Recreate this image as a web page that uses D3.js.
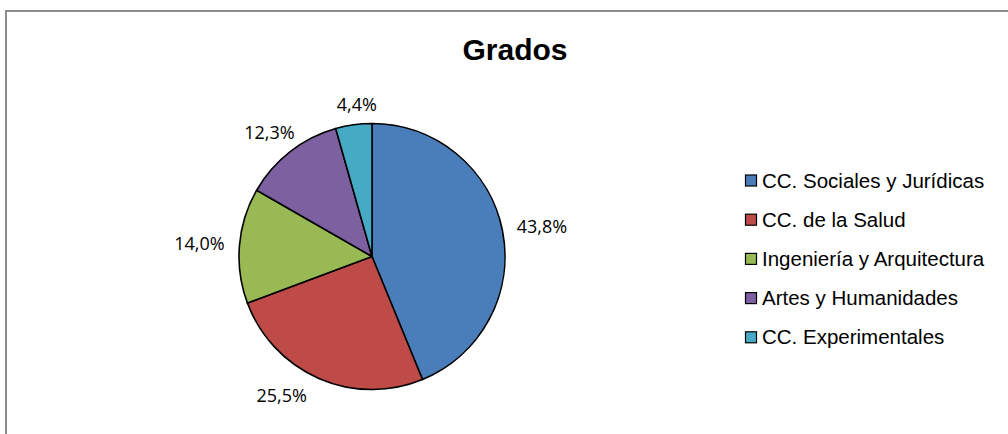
<!DOCTYPE html>
<html>
<head>
<meta charset="utf-8">
<script src="https://cdn.jsdelivr.net/npm/d3@7"></script>
<style>
  html, body { margin: 0; padding: 0; background: #fff; }
  svg { display: block; }
</style>
</head>
<body>
<svg id="chart" width="1008" height="434"></svg>
<script>
const categories = ["CC. Sociales y Jurídicas", "CC. de la Salud", "Ingeniería y Arquitectura", "Artes y Humanidades", "CC. Experimentales"];
const values = [43.8, 25.5, 14.0, 12.3, 4.4];
const valueLabels = ["43,8%", "25,5%", "14,0%", "12,3%", "4,4%"];
const colors = ["#4A7EBB", "#BE4B48", "#98B954", "#7D60A0", "#46AAC5"];
const labelNudge = [[0, 0], [-21, -3], [0, 0], [4, -2], [8, 1]];
const title = "Grados";

const W = 1008, H = 434;
const svg = d3.select("#chart");

// outer chart border
svg.append("rect")
  .attr("x", 6).attr("y", 11)
  .attr("width", W + 20).attr("height", H + 20)
  .attr("fill", "none")
  .attr("stroke", "#8C8C8C")
  .attr("stroke-width", 2);

// title
svg.append("text")
  .attr("x", 515).attr("y", 60)
  .attr("text-anchor", "middle")
  .attr("font-family", "'Liberation Sans', Arial, sans-serif")
  .attr("font-weight", "bold")
  .attr("font-size", 30)
  .attr("fill", "#000")
  .text(title);

const cx = 372, cy = 256.5, r = 133;
const pie = d3.pie().sort(null).value(d => d)(values);
const arc = d3.arc().innerRadius(0).outerRadius(r);

const g = svg.append("g").attr("transform", `translate(${cx},${cy})`);
g.selectAll("path.slice")
  .data(pie)
  .enter().append("path")
  .attr("class", "slice")
  .attr("d", arc)
  .attr("fill", (d, i) => colors[i])
  .attr("stroke", "#000")
  .attr("stroke-width", 1.6)
  .attr("stroke-linejoin", "round");

// data labels, placed outside the slice ends
const labelFont = "'Open Sans', 'Noto Sans', sans-serif";
const gap = 15, capH = 13;
g.selectAll("text.lbl")
  .data(pie)
  .enter().append("text")
  .attr("class", "lbl")
  .attr("font-family", labelFont)
  .attr("font-size", 18)
  .attr("fill", "#000")
  .attr("text-anchor", "middle")
  .text((d, i) => valueLabels[i])
  .each(function (d, i) {
    const a = (d.startAngle + d.endAngle) / 2;
    const s = Math.sin(a), c = Math.cos(a);
    const w = this.getComputedTextLength();
    const x = (r + gap) * s + (w / 2) * s + labelNudge[i][0];
    const y = -(r + gap) * c - (capH / 2) * c + labelNudge[i][1];
    d3.select(this).attr("x", x).attr("y", y + capH / 2);
  });

// legend
const legend = svg.append("g");
const ly0 = 187.5, lstep = 39.2;
categories.forEach((cat, i) => {
  const y = ly0 + i * lstep;
  legend.append("rect")
    .attr("x", 745.5).attr("y", y - 12.5)
    .attr("width", 11).attr("height", 11)
    .attr("fill", colors[i])
    .attr("stroke", "#000")
    .attr("stroke-width", 1.2);
  legend.append("text")
    .attr("x", 762).attr("y", y)
    .attr("font-family", "'Liberation Sans', Arial, sans-serif")
    .attr("font-size", 20.5)
    .attr("fill", "#000")
    .text(cat);
});
</script>
</body>
</html>
